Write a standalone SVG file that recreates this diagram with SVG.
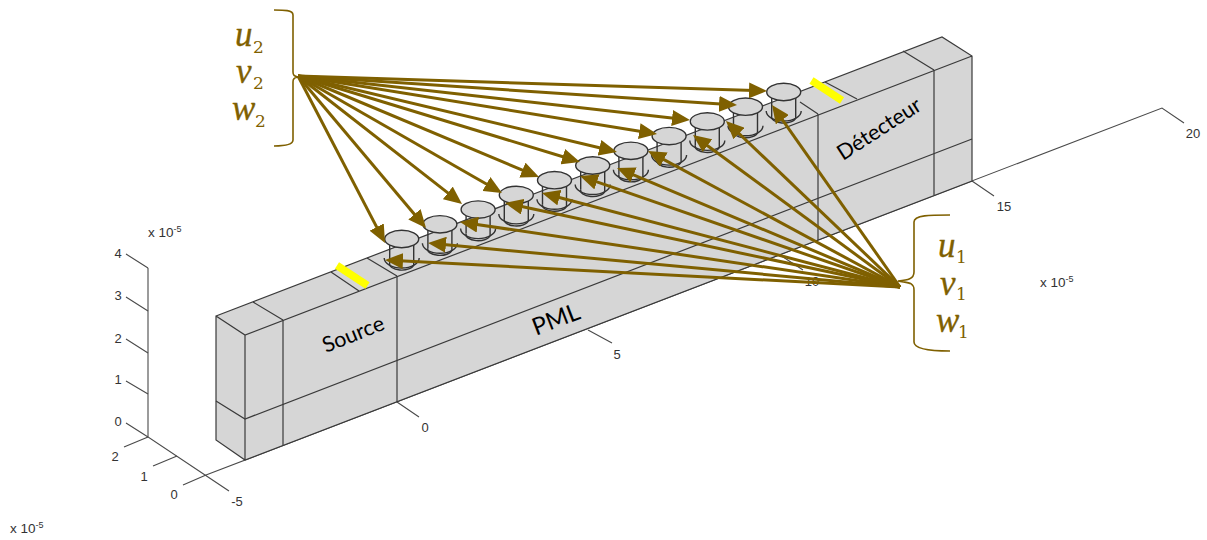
<svg xmlns="http://www.w3.org/2000/svg" width="1207" height="540" viewBox="0 0 1207 540">
<style>
.face{fill:#d6d6d6;stroke:none}
.edge{fill:none;stroke:#3a3a3a;stroke-width:1.2}
.axis{fill:none;stroke:#4a4a4a;stroke-width:1.1}
.tick{font-family:"Liberation Sans",Arial,sans-serif;font-size:13px;fill:#333;text-anchor:middle}
.exp{font-family:"Liberation Sans",Arial,sans-serif;font-size:13.5px;fill:#333}
.sup{font-size:9px}
.lab{font-family:Lato,"Open Sans",sans-serif;fill:#000;text-anchor:middle}
.math{font-family:"Liberation Serif",serif;font-style:italic;font-size:35px;fill:#7f6000;stroke:#7f6000;stroke-width:.35}
.sub{font-family:"DejaVu Serif",serif;font-style:normal;font-size:17px;stroke:none}
.brace{fill:none;stroke:#7f6000;stroke-width:1.6}
.arrow{fill:none;stroke:#7f6000;stroke-width:3;marker-end:url(#head)}
.cap{fill:#d6d6d6;stroke:#333;stroke-width:1.4}
.cyl{fill:none;stroke:#333;stroke-width:1.4}
.bar{stroke:#ffff00;stroke-width:7.5;fill:none}
</style>
<defs>
<marker id="head" markerUnits="userSpaceOnUse" markerWidth="18" markerHeight="16" refX="13" refY="8" orient="auto"><path d="M0,0L18,8L0,16z" fill="#7f6000"/></marker>
<g id="cylinder">
<path class="cyl" d="M-17.5,19A17.5,10 0 0 0 17.5,19"/>
<path class="cyl" d="M-12,24A12,6 0 0 0 12,26"/>
<path class="cyl" d="M-12,4V24M12,4V26"/>
<ellipse class="cap" cx="0" cy="0" rx="17" ry="8.7"/>
</g>
</defs>

<g id="axes">
<path class="axis" d="M148,268V437L229,491M206,475L1162,108L1184,123"/>
<path class="axis" d="M148,268L126,254M148,311L126,297M148,353L126,339M148,394L126,381M148,437L126,423"/>
<path class="axis" d="M148,437L124,447M177,456L153,466M206,475L183,485"/>
<path class="axis" d="M397,402L419,417M588,330L612,343M780,255L803,270M972,181L994,196"/>
<text class="tick" x="118" y="258">4</text>
<text class="tick" x="118" y="300">3</text>
<text class="tick" x="118" y="343">2</text>
<text class="tick" x="118" y="384">1</text>
<text class="tick" x="118" y="426">0</text>
<text class="tick" x="115" y="461">2</text>
<text class="tick" x="144" y="481">1</text>
<text class="tick" x="174" y="499">0</text>
<text class="tick" x="237" y="506">-5</text>
<text class="tick" x="425" y="432">0</text>
<text class="tick" x="617" y="359">5</text>
<text class="tick" x="812" y="286">10</text>
<text class="tick" x="1004" y="211">15</text>
<text class="tick" x="1193" y="138">20</text>
<text class="exp" x="148" y="237">x 10<tspan class="sup" dy="-5">-5</tspan></text>
<text class="exp" x="10" y="533">x 10<tspan class="sup" dy="-5">-5</tspan></text>
<text class="exp" x="1040" y="287">x 10<tspan class="sup" dy="-5">-5</tspan></text>
</g>

<g id="beam">
<path class="face" d="M216,316L942,37L972,56V181L245,460L216,440z"/>
<path class="edge" d="M216,316L942,37L972,56V181L245,460L216,440zM216,316L245,335L972,56M245,335V460"/>
<path class="edge" d="M216,401L245,419L972,139"/>
<path class="edge" d="M283,320V445M397,276V402M818,114V240M934,70V195"/>
<path class="edge" d="M253,302L283,320M331,272L359,291M367,258L397,276M800,102L818,114M825,82L857,99M903,51L934,70"/>
</g>

<g id="cyl-1" transform="translate(401.7,239)"><use href="#cylinder"/></g>
<g id="cyl-2" transform="translate(439.9,224.3)"><use href="#cylinder"/></g>
<g id="cyl-3" transform="translate(478.1,209.6)"><use href="#cylinder"/></g>
<g id="cyl-4" transform="translate(516.3,194.9)"><use href="#cylinder"/></g>
<g id="cyl-5" transform="translate(554.5,180.2)"><use href="#cylinder"/></g>
<g id="cyl-6" transform="translate(592.7,165.5)"><use href="#cylinder"/></g>
<g id="cyl-7" transform="translate(630.9,150.8)"><use href="#cylinder"/></g>
<g id="cyl-8" transform="translate(669.1,136.1)"><use href="#cylinder"/></g>
<g id="cyl-9" transform="translate(707.3,121.4)"><use href="#cylinder"/></g>
<g id="cyl-10" transform="translate(745.5,106.7)"><use href="#cylinder"/></g>
<g id="cyl-11" transform="translate(783.7,92)"><use href="#cylinder"/></g>

<g id="source-bar"><path class="bar" d="M337,265.5L367.5,285.5"/></g>
<g id="detector-bar"><path class="bar" d="M811.5,80.5L842,100.5"/></g>

<g id="label-source"><text class="lab" font-size="21.5" transform="translate(356,341) rotate(-22)">Source</text></g>
<g id="label-pml"><text class="lab" font-size="24" transform="translate(559,327) rotate(-21)">PML</text></g>
<g id="label-detecteur"><text class="lab" font-size="21.5" transform="translate(883,135) rotate(-33)">Détecteur</text></g>

<g id="group-2">
<path class="brace" d="M274,10C284,10 293,10 293,15V72C293,76 295,76 298,77C295,78 293,78 293,82V140C293,145 284,146 274,146"/>
<text class="math" x="235" y="46">u<tspan class="sub" x="253" y="53">2</tspan></text>
<text class="math" x="236" y="83">v<tspan class="sub" x="253" y="89">2</tspan></text>
<text class="math" x="232" y="120">w<tspan class="sub" x="255" y="127">2</tspan></text>
</g>
<g id="group-1">
<path class="brace" d="M950,215C930,215 914,215 914,222V272C914,279 908,280 898,281C908,283 914,282 914,290V342C914,349 930,351 950,351"/>
<text class="math" x="938" y="257">u<tspan class="sub" x="956" y="263">1</tspan></text>
<text class="math" x="940" y="295">v<tspan class="sub" x="956" y="300">1</tspan></text>
<text class="math" x="936" y="332">w<tspan class="sub" x="958" y="338">1</tspan></text>
</g>

<g id="connectors">
<path class="arrow" d="M298,76L382.7,238.6"/>
<path class="arrow" d="M298,76L422.8,224.2"/>
<path class="arrow" d="M298,76L458.1,200.9"/>
<path class="arrow" d="M298,76L497.7,190.5"/>
<path class="arrow" d="M298,76L534.4,175.1"/>
<path class="arrow" d="M298,76L575.2,160.5"/>
<path class="arrow" d="M298,76L612.1,150.8"/>
<path class="arrow" d="M298,76L652.1,133.2"/>
<path class="arrow" d="M298,76L685,119.4"/>
<path class="arrow" d="M298,76L732,104.7"/>
<path class="arrow" d="M298,76L762,90.8"/>
<path class="arrow" d="M900,287L390,260.3"/>
<path class="arrow" d="M900,287L433,243.5"/>
<path class="arrow" d="M900,287L464.9,222.7"/>
<path class="arrow" d="M900,287L509.9,204"/>
<path class="arrow" d="M900,287L546.8,194.3"/>
<path class="arrow" d="M900,287L584.7,177.6"/>
<path class="arrow" d="M900,287L621.6,169.9"/>
<path class="arrow" d="M900,287L652.4,153.4"/>
<path class="arrow" d="M900,287L697,138"/>
<path class="arrow" d="M900,287L729.6,124.5"/>
<path class="arrow" d="M900,287L774.9,109.1"/>
</g>
</svg>
